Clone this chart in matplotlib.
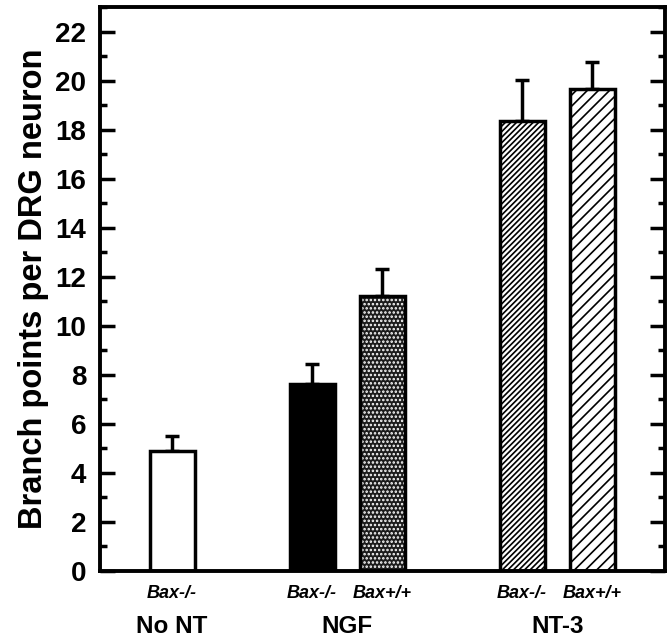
import matplotlib.pyplot as plt
from matplotlib.ticker import MultipleLocator

# dados
positions = [1, 3, 4, 6, 7]
values = [4.9, 7.63, 11.22, 18.37, 19.67]
errors = [0.6, 0.8, 1.1, 1.67, 1.1]
bar_labels = ['Bax-/-', 'Bax-/-', 'Bax+/+', 'Bax-/-', 'Bax+/+']
groups = ['No NT', 'NGF', 'NT-3']
group_pos = [1, 3.5, 6.5]

plt.rcParams['font.family'] = ['Liberation Sans', 'DejaVu Sans']
plt.rcParams['hatch.linewidth'] = 1.2

fig = plt.figure(figsize=(6.69, 6.41), dpi=100)
ax = fig.add_axes([0.1495, 0.1092, 0.8445, 0.8798])

faces = ['white', 'black', '#1c1c1c', 'white', 'white']
hatches = [None, None, '....', '//////', '///']
hcols = ['black', 'black', 'white', 'black', 'black']

for x, v, f, h, hc in zip(positions, values, faces, hatches, hcols):
    ax.bar(x, v, width=0.64, color=f, edgecolor=hc, hatch=h, linewidth=0, zorder=2)
    ax.bar(x, v, width=0.64, fill=False, edgecolor='black', linewidth=2.5, zorder=3)

ax.errorbar(positions, values, yerr=[[0] * 5, errors], fmt='none', ecolor='black',
            elinewidth=2.5, capsize=5, capthick=2.5, zorder=1)

ax.set_xlim(-0.03, 8.04)
ax.set_ylim(0, 23)
ax.yaxis.set_major_locator(MultipleLocator(2))
ax.yaxis.set_minor_locator(MultipleLocator(1))
ax.tick_params(axis='y', which='both', direction='in', right=True, width=2.5)
ax.tick_params(axis='y', which='major', length=11, labelsize=20, pad=10)
ax.tick_params(axis='y', which='minor', length=5)
ax.set_xticks([])
for lbl in ax.get_yticklabels():
    lbl.set_fontweight('bold')
for s in ax.spines.values():
    s.set_linewidth(2.8)

ax.set_ylabel('Branch points per DRG neuron', fontsize=23.5, fontweight='bold')
ax.yaxis.set_label_coords(-0.09, 0.5)

for x, t in zip(positions, bar_labels):
    ax.text(x, -0.040, t, transform=ax.get_xaxis_transform(), ha='center', va='center',
            fontsize=13, fontweight='bold', style='italic')
for x, t in zip(group_pos, groups):
    ax.text(x, -0.099, t, transform=ax.get_xaxis_transform(), ha='center', va='center',
            fontsize=17.5, fontweight='bold')

plt.savefig('out.png', dpi=100)
